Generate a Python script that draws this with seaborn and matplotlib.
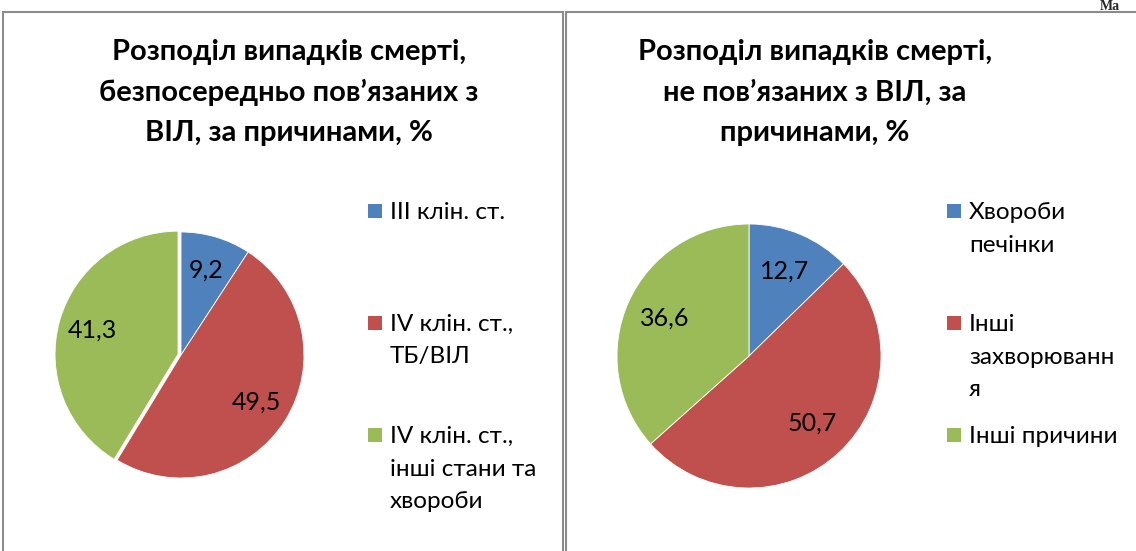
import matplotlib
matplotlib.use("Agg")
import matplotlib.pyplot as plt
from matplotlib.patches import Rectangle
import seaborn as sns

# ---------- DATA ----------
left_title = ["Розподіл випадків смерті,", "безпосередньо пов’язаних з", "ВІЛ, за причинами, %"]
left_labels = ["III клін. ст.", "IV клін. ст.,\nТБ/ВІЛ", "IV клін. ст.,\nінші стани та\nхвороби"]
left_values = [9.2, 49.5, 41.3]

right_title = ["Розподіл випадків смерті,", "не пов’язаних з ВІЛ, за", "причинами, %"]
right_labels = ["Хвороби\nпечінки", "Інші\nзахворюванн\nя", "Інші причини"]
right_values = [12.7, 50.7, 36.6]

colors = sns.color_palette(["#4F81BD", "#C0504D", "#9BBB59"])
# --------------------------

W, H = 1136, 551
sns.set_theme(style="white")
plt.rcParams["font.family"] = ["Lato", "Noto Sans", "DejaVu Sans"]

fig = plt.figure(figsize=(W / 100, H / 100), dpi=100)
fig.patch.set_facecolor("white")


def fx(x):
    return x / W


def fy(y):
    return 1 - y / H


# panel borders
border = "#8c8c8c"
fig.add_artist(Rectangle((fx(3.5), fy(560)), fx(559), fy(11.5) - fy(560),
                         transform=fig.transFigure, fill=False, ec=border, lw=1.5))
fig.add_artist(Rectangle((fx(565.5), fy(560)), fx(600), fy(11.5) - fy(560),
                         transform=fig.transFigure, fill=False, ec=border, lw=1.5))
fig.text(fx(1100), fy(0.5), "Ма", family=["Liberation Serif", "DejaVu Serif"],
         fontsize=10, fontweight="bold", va="top", ha="left")


def draw_panel(cx, cy, r, values, labels, title, title_cx, legend_x, explode, lab_dist):
    ax = fig.add_axes([fx(cx - r), fy(cy + r), fx(2 * r), fy(cy - r) - fy(cy + r)])
    texts = [f"{v:.1f}".replace(".", ",") for v in values]
    wedges, lbls = ax.pie(values, colors=colors, startangle=90, counterclock=False,
                          explode=explode, labels=texts, labeldistance=lab_dist,
                          wedgeprops=dict(edgecolor="white", linewidth=0.6),
                          textprops=dict(fontsize=18, color="black"))
    for t in lbls:
        t.set_ha("center")
        t.set_va("center")
    ax.set_xlim(-1, 1)
    ax.set_ylim(-1, 1)
    ax.set_aspect("equal")
    ax.axis("off")

    for i, line in enumerate(title):
        fig.text(fx(title_cx), fy(60 + i * 40.5), line, ha="center", va="baseline",
                 fontsize=21, fontweight="bold", color="black")

    # legend, entries stacked at a fixed pitch
    for i, (lab, col) in enumerate(zip(labels, colors)):
        base = 219 + i * 112
        fig.add_artist(Rectangle((fx(legend_x), fy(base - 1)), fx(14), fy(base - 15) - fy(base - 1),
                                 transform=fig.transFigure, fc=col, ec="none"))
        for j, line in enumerate(lab.split("\n")):
            fig.text(fx(legend_x + 22), fy(base + j * 32.5), line, ha="left", va="baseline",
                     fontsize=17.5, color="black")


draw_panel(181, 355, 123, left_values, left_labels, left_title, 289, 368,
           [0, 0, 0.025], 0.72)
draw_panel(749, 356, 132, right_values, right_labels, right_title, 815, 947,
           [0, 0, 0], 0.70)

fig.savefig("out.png", dpi=100, facecolor="white")
